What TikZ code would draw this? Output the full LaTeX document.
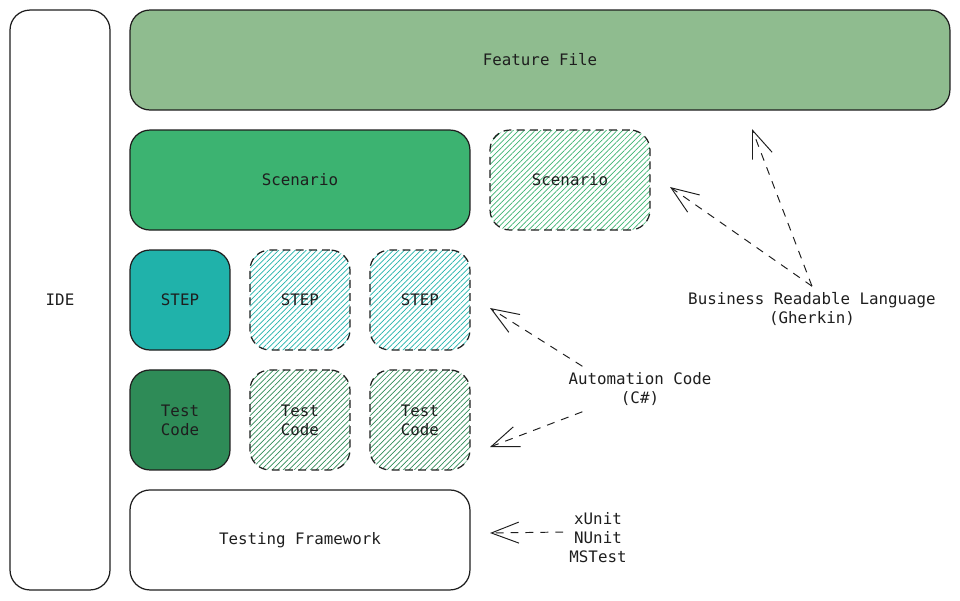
\documentclass[tikz,border=0pt]{standalone}
\usepackage{fontspec}
\setmonofont{DejaVu Sans Mono}
\usetikzlibrary{positioning, arrows.meta, patterns.meta}

\definecolor{ink}{HTML}{1E1E1E}
\definecolor{featuregreen}{HTML}{8FBC8F}
\definecolor{scenariogreen}{HTML}{3CB371}
\definecolor{stepteal}{HTML}{20B2AA}
\definecolor{codegreen}{HTML}{2E8B57}

\begin{document}
\begin{tikzpicture}[x=0.02cm, y=-0.02cm, node distance=2.4cm, on grid,
    every node/.style={font=\fontsize{9}{10.8}\selectfont\ttfamily, text=ink},
    box/.style={draw=ink, line width=0.7pt, rounded corners=0.4cm, align=center, inner sep=0pt},
    tile/.style={box, minimum width=2cm, minimum height=2cm},
    ghost/.style={tile, dash pattern=on 4.5pt off 3pt,
        pattern={Lines[angle=45, distance=2.2pt, line width=0.4pt]}, pattern color=#1},
    note/.style={align=center},
    link/.style={color=ink, line width=0.55pt, dash pattern=on 4.5pt off 4pt,
        -{Straight Barb[length=0.55cm, width=0.42cm]}}]
    \useasboundingbox (0,0) rectangle (960,600);

    % Nodes
    \node[box, minimum width=2cm, minimum height=11.6cm] (ide) at (60,300) {IDE};
    \node[box, fill=featuregreen, minimum width=16.4cm, minimum height=2cm] (feature) at (540,60) {Feature File};

    \node[tile, fill=stepteal] (step1) at (180,300) {STEP};
    \node[ghost=stepteal] (step2) [right=of step1] {STEP};
    \node[ghost=stepteal] (step3) [right=of step2] {STEP};

    \node[box, fill=scenariogreen, minimum width=6.8cm, minimum height=2cm] (scenario) [above=of step2] {Scenario};
    \node[ghost=scenariogreen, minimum width=3.2cm] (scenario2) at (570,180) {Scenario};

    \node[tile, fill=codegreen] (code1) [below=of step1] {Test\\Code};
    \node[ghost=codegreen] (code2) [right=of code1] {Test\\Code};
    \node[ghost=codegreen] (code3) [right=of code2] {Test\\Code};

    \node[box, minimum width=6.8cm, minimum height=2cm] (framework) [below=of code2] {Testing Framework};

    % Notes
    \node[note] (gherkin) at (812,309) {Business Readable Language\\(Gherkin)};
    \node[note] (automation) at (640,389) {Automation Code\\(C\#)};
    \node[note] (units) at (598,538) {xUnit\\NUnit\\MSTest};

    \coordinate (tipfeature) at (752,129);
    \coordinate (tipscenario) at (670,187);
    \coordinate (tipstep) at (490,308);
    \coordinate (tipcode) at (490,447);
    \coordinate (tipframework) at (490,533);

    % Arrows
    \path[link]
        (gherkin.north) edge (tipfeature)
                        edge (tipscenario)
        ([xshift=0.4cm]automation.north west) edge (tipstep)
        ([xshift=0.4cm]automation.south west) edge (tipcode)
        ([yshift=0.12cm]units.west) edge (tipframework);
\end{tikzpicture}
\end{document}
